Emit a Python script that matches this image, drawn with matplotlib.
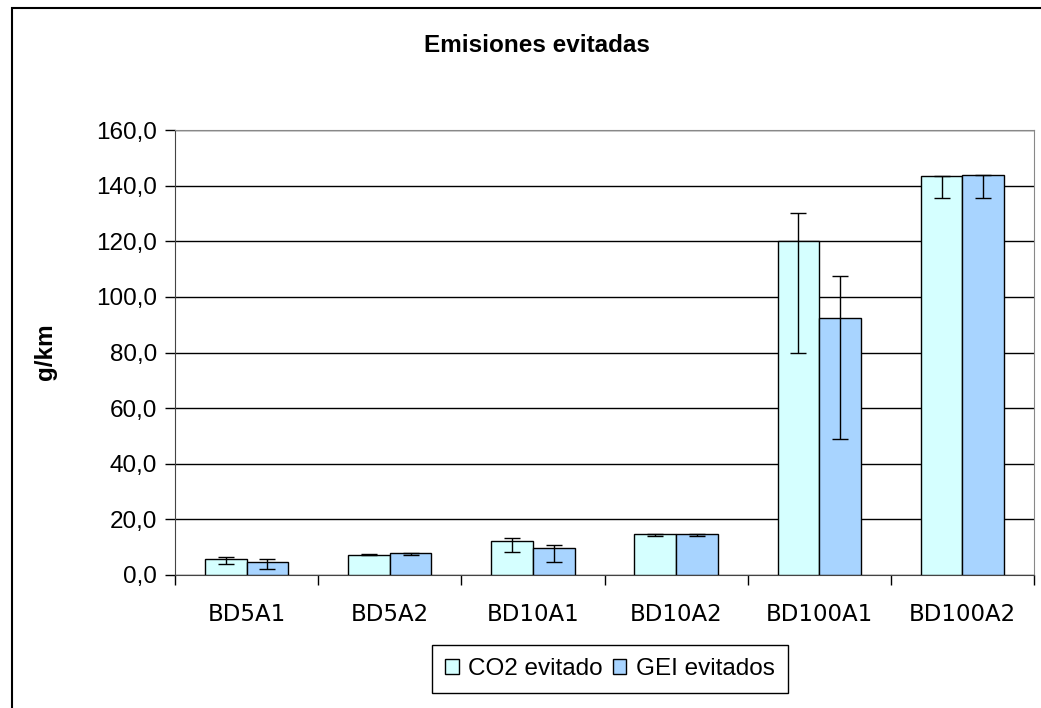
import matplotlib.pyplot as plt
import matplotlib.patches as mpatches
from matplotlib.ticker import FuncFormatter, FixedLocator

# data
categories = ['BD5A1', 'BD5A2', 'BD10A1', 'BD10A2', 'BD100A1', 'BD100A2']
co2 = [5.6, 7.3, 12.3, 14.9, 120.0, 143.3]
gei = [4.8, 8.0, 9.8, 14.9, 92.3, 144.0]
co2_err_minus = [1.8, 0.1, 4.1, 1.0, 40.0, 7.6]
co2_err_plus = [0.9, 0.1, 0.9, 0.0, 10.0, 0.0]
gei_err_minus = [2.5, 0.9, 5.0, 1.0, 43.4, 8.3]
gei_err_plus = [0.8, 0.0, 0.9, 0.0, 15.1, 0.0]

col_co2 = '#D5FFFF'
col_gei = '#A8D4FF'

fig = plt.figure(figsize=(10.41, 7.08), dpi=100)
W, H = 1041, 708
ax = fig.add_axes([175 / W, 1 - 575 / H, (1034 - 175) / W, (575 - 130) / H])

# outer chart border
fig.patches.append(mpatches.Rectangle((12 / W, -0.1), 1.2, 1 - 8 / H + 0.1,
                                      transform=fig.transFigure, fill=False,
                                      edgecolor='black', linewidth=1.5))

x = [i + 0.5 for i in range(len(categories))]
bw = 0.291
x1 = [v - bw / 2 for v in x]
x2 = [v + bw / 2 for v in x]

ax.bar(x1, co2, width=bw, color=col_co2, edgecolor='black', linewidth=1,
       label='CO2 evitado', zorder=3)
ax.bar(x2, gei, width=bw, color=col_gei, edgecolor='black', linewidth=1,
       label='GEI evitados', zorder=3)
ax.errorbar(x1, co2, yerr=[co2_err_minus, co2_err_plus], fmt='none',
            ecolor='black', elinewidth=1, capsize=6, capthick=1, zorder=4)
ax.errorbar(x2, gei, yerr=[gei_err_minus, gei_err_plus], fmt='none',
            ecolor='black', elinewidth=1, capsize=6, capthick=1, zorder=4)

ax.set_xlim(0, 6)
ax.set_ylim(0, 160)
ax.set_yticks(range(0, 161, 20))
ax.yaxis.set_major_formatter(FuncFormatter(lambda v, p: f'{v:.1f}'.replace('.', ',')))
ax.grid(axis='y', color='black', linewidth=1, zorder=0)

ax.xaxis.set_major_locator(FixedLocator(range(0, 7)))
ax.xaxis.set_minor_locator(FixedLocator(x))
ax.set_xticklabels([])
ax.set_xticklabels(categories, minor=True, fontfamily='DejaVu Sans', fontsize=16.5)
ax.tick_params(axis='x', which='major', length=7, width=1, direction='out')
ax.tick_params(axis='x', which='minor', length=0, pad=20)
ax.tick_params(axis='y', length=7, width=1, direction='out', pad=6)
for lab in ax.get_yticklabels():
    lab.set_fontfamily('Liberation Sans')
    lab.set_fontsize(17.5)

for s in ['top', 'right']:
    ax.spines[s].set_color('#888888')
ax.spines['left'].set_color('#444444')
ax.spines['bottom'].set_color('#444444')

fig.text(537 / W, 1 - 46 / H, 'Emisiones evitadas', ha='center', va='center',
         fontfamily='Liberation Sans', fontweight='bold', fontsize=17.5)
fig.text(45 / W, 1 - 352 / H, 'g/km', ha='center', va='center', rotation=90,
         fontfamily='Liberation Sans', fontweight='bold', fontsize=17.5)

leg = fig.legend(loc='center', bbox_to_anchor=(610 / W, 1 - 669 / H), ncol=2,
                 prop={'family': 'Liberation Sans', 'size': 17.5},
                 handlelength=0.55, handleheight=0.55, handletextpad=0.4,
                 columnspacing=0.4, borderpad=0.55, borderaxespad=0,
                 fancybox=False, edgecolor='black', framealpha=1)
leg.get_frame().set_linewidth(1)

fig.savefig('out.png', dpi=100)
